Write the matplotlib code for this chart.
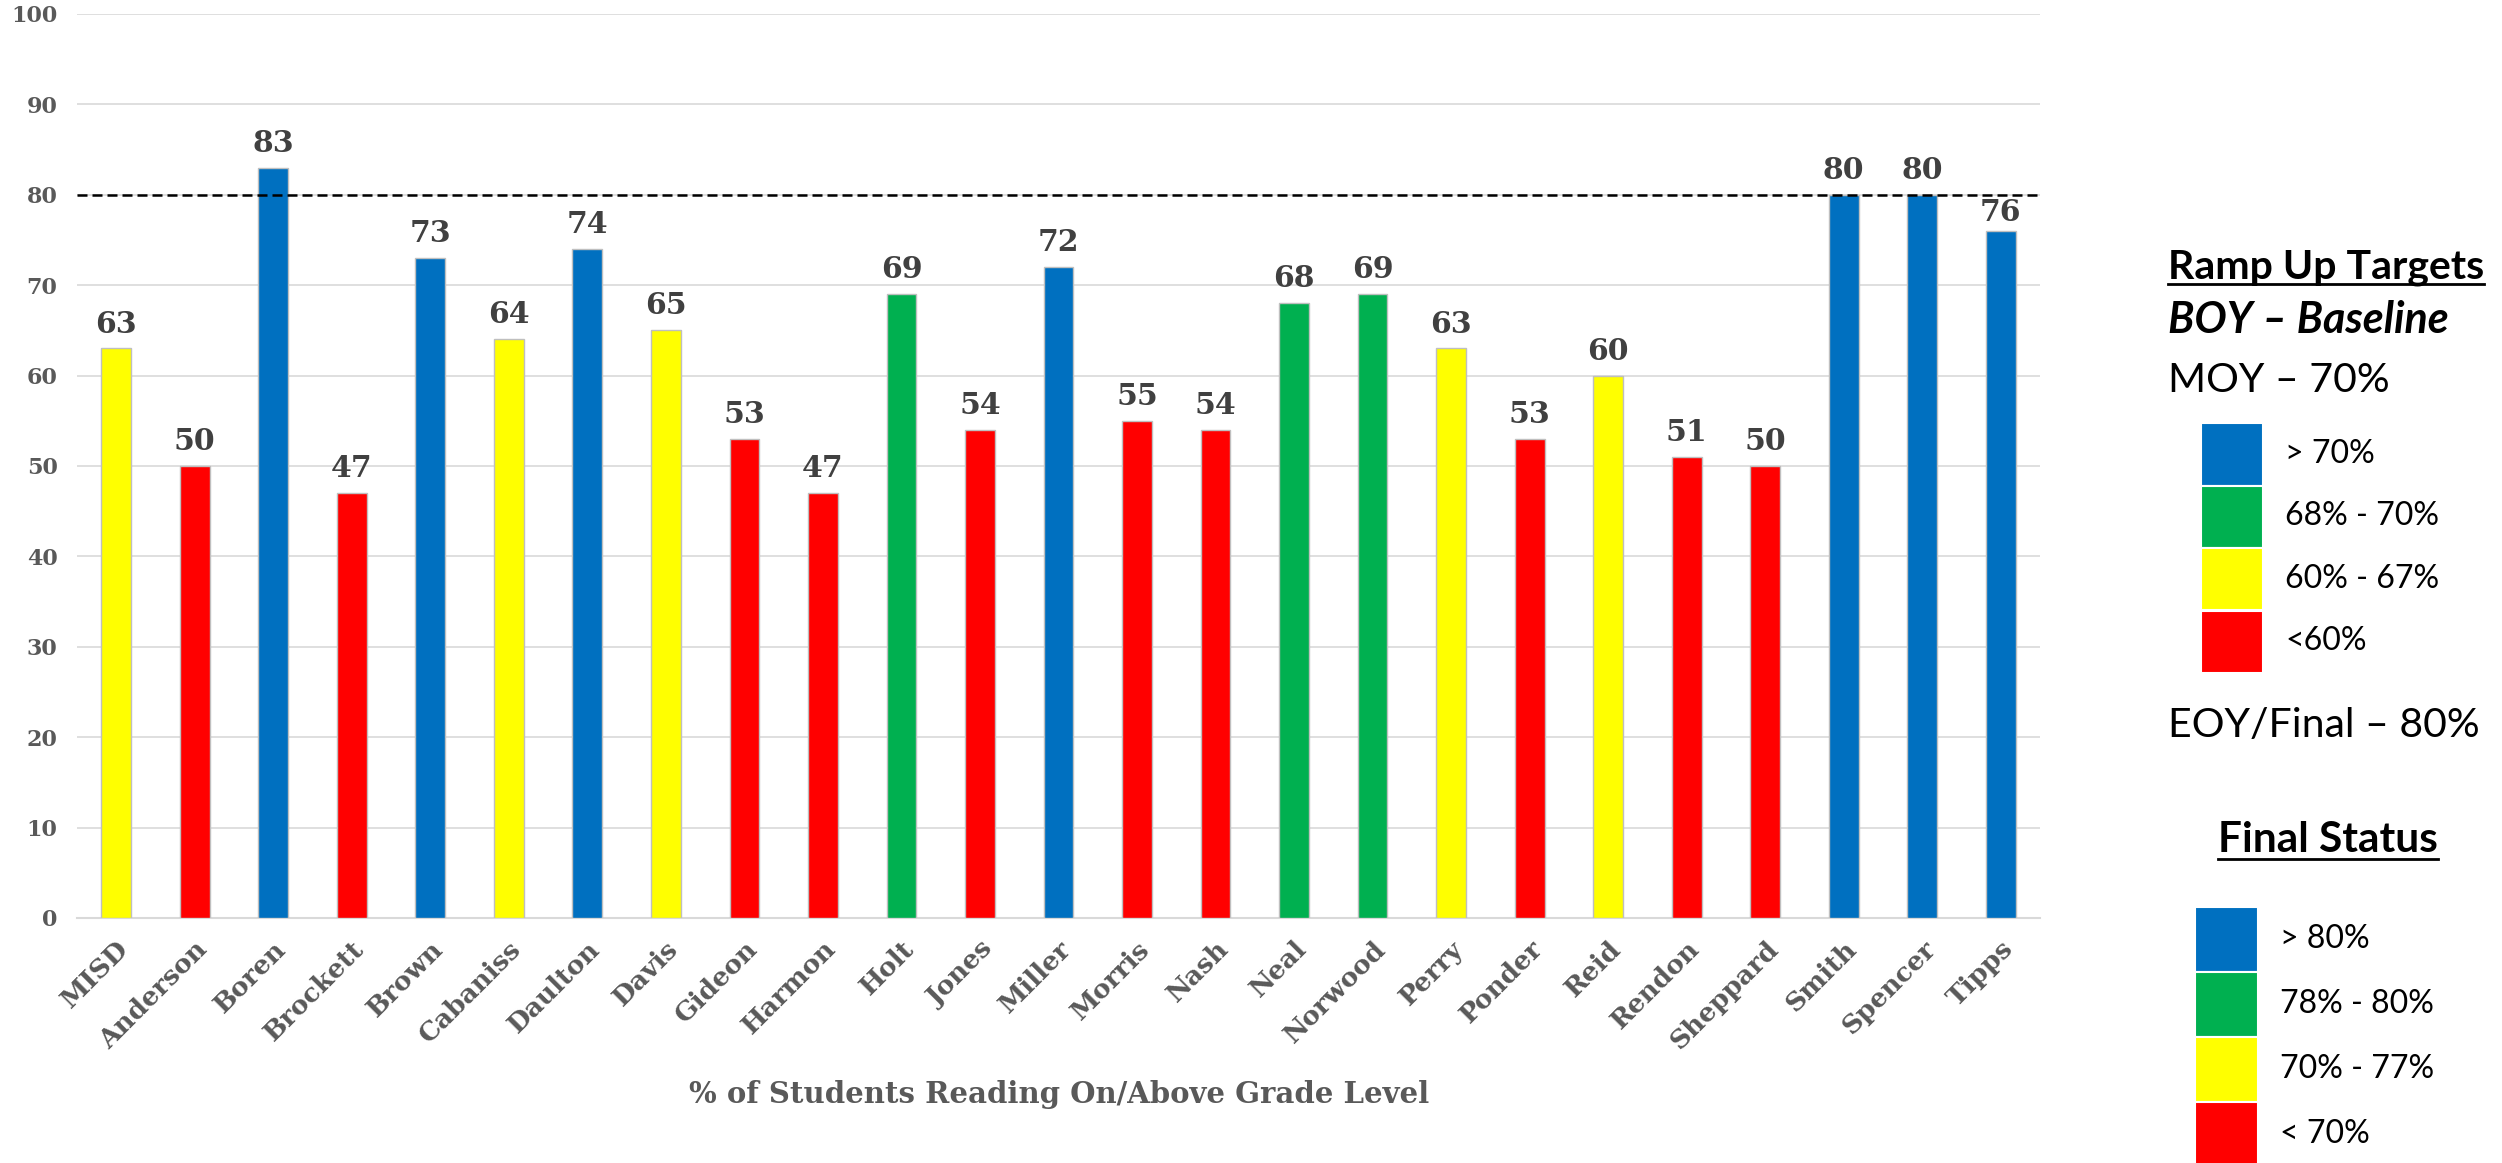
import matplotlib.pyplot as plt
from matplotlib.patches import Rectangle
from matplotlib.lines import Line2D

# data
schools = ['MISD', 'Anderson', 'Boren', 'Brockett', 'Brown', 'Cabaniss', 'Daulton', 'Davis',
           'Gideon', 'Harmon', 'Holt', 'Jones', 'Miller', 'Morris', 'Nash', 'Neal', 'Norwood',
           'Perry', 'Ponder', 'Reid', 'Rendon', 'Sheppard', 'Smith', 'Spencer', 'Tipps']
pct = [63, 50, 83, 47, 73, 64, 74, 65, 53, 47, 69, 54, 72, 55, 54, 68, 69, 63, 53, 60, 51, 50, 80, 80, 76]
tier = ['yellow', 'red', 'blue', 'red', 'blue', 'yellow', 'blue', 'yellow', 'red', 'red', 'green',
        'red', 'blue', 'red', 'red', 'green', 'green', 'yellow', 'red', 'yellow', 'red', 'red',
        'blue', 'blue', 'blue']
target = 80

tier_colors = {'blue': '#0070C0', 'green': '#00B050', 'yellow': '#FFFF00', 'red': '#FF0000'}
legend_tiers = ['blue', 'green', 'yellow', 'red']
moy_labels = ['> 70%', '68% - 70%', '60% - 67%', '<60%']
final_labels = ['> 80%', '78% - 80%', '70% - 77%', '< 70%']

W, H = 2502, 1163
fig = plt.figure(figsize=(W / 100, H / 100), dpi=100)
ax = fig.add_axes([77 / W, 1 - 918 / H, (2040 - 77) / W, (918 - 14) / H])

x = list(range(len(schools)))
bars = ax.bar(x, pct, width=0.38, color=[tier_colors[t] for t in tier],
              edgecolor='#BFBFBF', linewidth=1, zorder=3)
for b, v in zip(bars, pct):
    # label just under the target line sits closer to its bar
    off = 7.5 if (v < target and v + 5 > target) else 11.5
    ax.annotate(str(v), (b.get_x() + b.get_width() / 2, v), xytext=(0, off),
                textcoords='offset points', ha='center', va='baseline',
                fontsize=21.5, fontweight='bold', family='DejaVu Serif', color='#404040')

ax.axhline(target, color='black', lw=1.8, ls=(0, (4, 2)), zorder=4)

ax.set_xlim(-0.5, len(schools) - 0.5)
ax.set_ylim(0, 100)
ax.set_yticks(range(0, 101, 10))
ax.set_yticklabels([str(t) for t in range(0, 101, 10)], fontsize=16, fontweight='bold',
                   family='DejaVu Serif', color='#595959')
ax.set_xticks(x)
ax.set_xticklabels(schools, rotation=45, ha='right', rotation_mode='anchor', fontsize=19,
                   fontweight='bold', family='DejaVu Serif', color='#595959')
ax.tick_params(axis='both', length=0)
ax.tick_params(axis='y', pad=14)
ax.tick_params(axis='x', pad=13)
ax.grid(axis='y', color='#D9D9D9', lw=1.2, zorder=0)
for s in ['top', 'right', 'left']:
    ax.spines[s].set_visible(False)
ax.spines['bottom'].set_color('#D9D9D9')
ax.spines['bottom'].set_linewidth(1.5)

fig.text(1059 / W, 1 - 1103 / H, '% of Students Reading On/Above Grade Level', ha='center',
         va='baseline', fontsize=21, fontweight='bold', family='DejaVu Serif', color='#595959')

# legend panel
def ftxt(px, py, s, **kw):
    return fig.text(px / W, 1 - py / H, s, va='baseline', family='Lato', color='black', **kw)

def underline(t, py):
    fig.canvas.draw()
    bb = t.get_window_extent()
    fig.add_artist(Line2D([bb.x0 / W, bb.x1 / W], [1 - py / H, 1 - py / H], color='black',
                          lw=2, transform=fig.transFigure))

t1 = ftxt(2168, 278, 'Ramp Up Targets', fontsize=29.5, fontweight='bold')
ftxt(2168, 333, 'BOY – Baseline', fontsize=31, fontweight='bold', style='italic')
ftxt(2168, 392, 'MOY – 70%', fontsize=29.5)
ftxt(2168, 737, 'EOY/Final – 80%', fontsize=29.5)
t2 = ftxt(2328, 852, 'Final Status', fontsize=30.5, fontweight='bold', ha='center')

for i, (k, lab) in enumerate(zip(legend_tiers, moy_labels)):
    top = 423 + i * 62.5
    fig.add_artist(Rectangle((2201 / W, 1 - (top + 62.5) / H), 62 / W, 62.5 / H,
                             facecolor=tier_colors[k], edgecolor='white', lw=1.5,
                             transform=fig.transFigure))
    fig.text(2285 / W, 1 - (top + 31) / H, lab, va='center', family='Lato', fontsize=23)

for i, (k, lab) in enumerate(zip(legend_tiers, final_labels)):
    top = 907 + i * 65
    fig.add_artist(Rectangle((2195 / W, 1 - (top + 65) / H), 63 / W, 65 / H,
                             facecolor=tier_colors[k], edgecolor='white', lw=1.5,
                             transform=fig.transFigure))
    fig.text(2280 / W, 1 - (top + 32) / H, lab, va='center', family='Lato', fontsize=23)

underline(t1, 284)
underline(t2, 859)

fig.savefig('out.png', dpi=100)
